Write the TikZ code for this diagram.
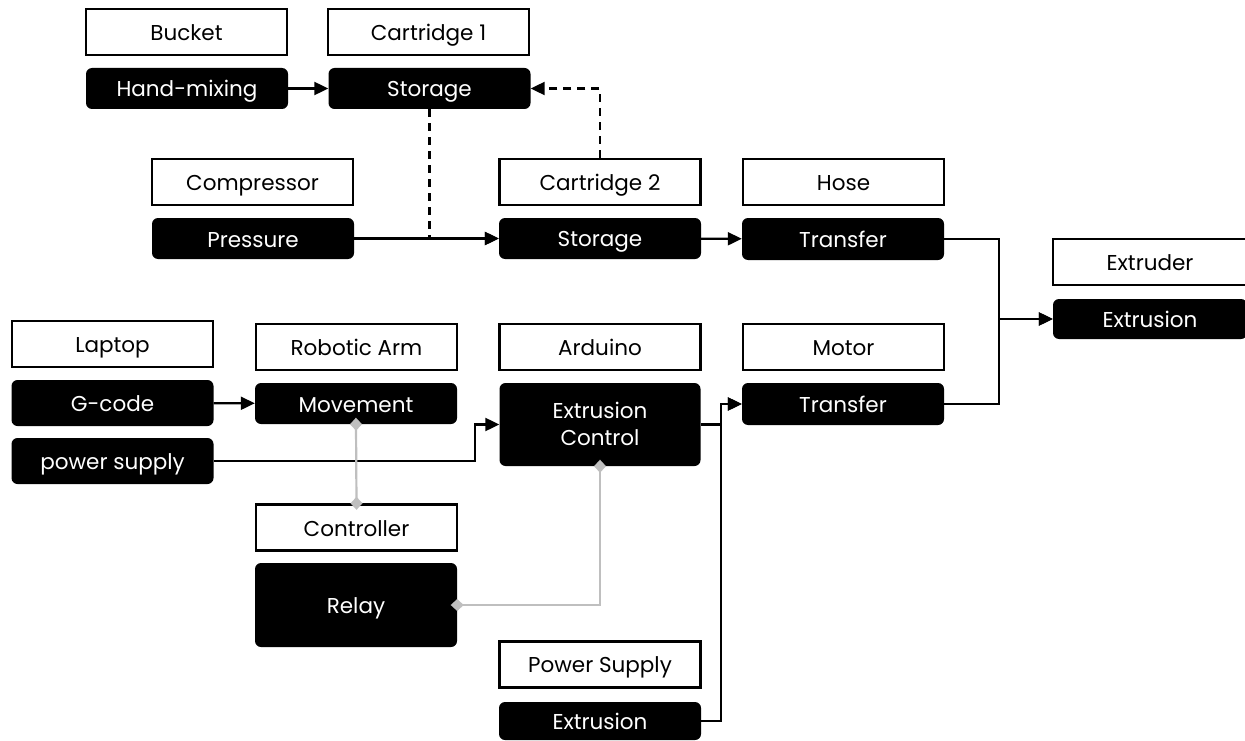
\documentclass[tikz,border=0pt]{standalone}
\usepackage{fontspec}
\setmainfont{Poppins}
\usetikzlibrary{arrows.meta,calc}
\newcommand\lnst{\rule[-5pt]{0pt}{27pt}}
\begin{document}
\begin{tikzpicture}[x=1pt,y=-1pt,
  every node/.style={font=\fontsize{21.5}{26}\selectfont, inner sep=0pt, align=center},
  wbox/.style={draw=black, line width=2.4pt, fill=white, minimum width=#1},
  wbox/.default=201pt,
  bbox/.style={fill=black, text=white, rounded corners=6pt, minimum width=#1},
  bbox/.default=202pt,
  arr/.style={line width=2.2pt, -{Triangle[length=14pt,width=13pt]}},
  dasharr/.style={arr, dash pattern=on 8pt off 6pt},
  link/.style={draw=black!25, line width=2.2pt, {Diamond[length=13pt,width=12pt]}-{Diamond[length=13pt,width=12pt]}, shorten <=-6.5pt, shorten >=-6.5pt}
]
\useasboundingbox (0,0) rectangle (1245,741);
% top row
\node[wbox, minimum height=46pt] (bucket) at (186.5,32) {\lnst Bucket};
\node[bbox, minimum height=41pt] (handmix) at (187,88.5) {\lnst Hand-mixing};
\node[wbox, minimum height=46pt] (cart1) at (428.5,32) {\lnst Cartridge 1};
\node[bbox, minimum height=41pt] (stor1) at (429.5,88.5) {\lnst Storage};
% second row
\node[wbox, minimum height=46pt] (compr) at (252.5,182) {\lnst Compressor};
\node[bbox, minimum height=41pt] (press) at (253,238.5) {\lnst Pressure};
\node[wbox, minimum height=46pt] (cart2) at (600,182) {\lnst Cartridge 2};
\node[bbox, minimum height=41pt] (stor2) at (600,238.5) {\lnst Storage};
\node[wbox, minimum height=46pt] (hose) at (843.5,182) {\lnst Hose};
\node[bbox, minimum height=42pt] (trans1) at (843,239) {\lnst Transfer};
% extruder
\node[wbox=194pt, minimum height=46pt] (extruder) at (1150,262) {\lnst Extruder};
\node[bbox=194pt, minimum height=40pt] (extrR) at (1150,319) {\lnst Extrusion};
% third row
\node[wbox, minimum height=46pt] (laptop) at (112.5,344) {\lnst Laptop};
\node[bbox, minimum height=46pt] (gcode) at (112.5,403) {\lnst G-code};
\node[bbox, minimum height=46pt] (psupply) at (112.5,461) {\lnst power supply};
\node[wbox, minimum height=46pt] (robarm) at (356.5,347) {\lnst Robotic Arm};
\node[bbox, minimum height=41pt] (movement) at (356,403.5) {\lnst Movement};
\node[wbox, minimum height=46pt] (controller) at (356.5,527.5) {\lnst Controller};
\node[bbox, minimum height=84pt] (relay) at (356,605) {\lnst Relay};
\node[wbox, minimum height=46pt] (arduino) at (600,347) {\lnst Arduino};
\node[bbox=201pt, minimum height=83pt] (extctrl) at (600,424.5) {\rule[-5pt]{0pt}{25pt}Extrusion\\[1pt]\rule[-5pt]{0pt}{25pt}Control};
\node[wbox, minimum height=46pt] (motor) at (843.5,347) {\lnst Motor};
\node[bbox, minimum height=42pt] (trans2) at (843,404) {\lnst Transfer};
\node[wbox, minimum height=46pt] (pwrsup) at (600,664.5) {\lnst Power Supply};
\node[bbox, minimum height=38pt] (extrB) at (600,721) {\lnst Extrusion};
% coordinates
\coordinate (jR) at (999,319);
\coordinate (jT) at (721,404);
\coordinate (jE) at (475,424.5);
% connectors
\draw[arr] (handmix) -- (stor1);
\draw[arr] (press) -- (stor2);
\draw[dasharr] (stor1.south) |- (stor2.west);
\draw[dasharr] (cart2.north) |- (stor1.east);
\draw[arr] (stor2) -- (trans1);
\draw[arr] (trans1.east) -| (jR) -- (extrR.west);
\draw[arr] (trans2.east) -| (jR) -- (extrR.west);
\draw[arr] (gcode) -- (movement);
\draw[arr] (psupply.east) -| (jE) -- (extctrl.west);
\draw[arr] (extctrl.east) -| (jT) -- (trans2.west);
\draw[arr] (extrB.east) -| (jT) -- (trans2.west);
\draw[link] (movement.south) -- (controller.north);
\draw[link] (extctrl.south) |- (relay.east);
\end{tikzpicture}
\end{document}
